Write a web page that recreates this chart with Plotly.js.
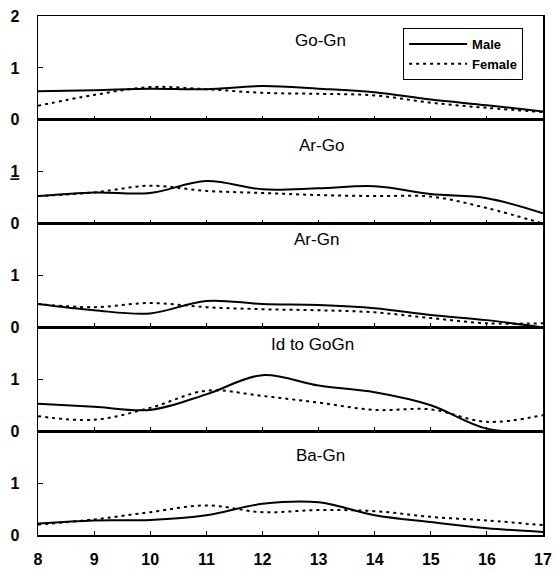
<!DOCTYPE html>
<html>
<head>
<meta charset="utf-8">
<script src="https://cdn.plot.ly/plotly-3.0.1.min.js"></script>
<style>html,body{margin:0;padding:0;background:#fff;}#chart{width:556px;height:574px;}</style>
</head>
<body>
<div id="chart"></div>
<script>
var ages = [8, 9, 10, 11, 12, 13, 14, 15, 16, 17];
var panelNames = ["Go-Gn", "Ar-Go", "Ar-Gn", "Id to GoGn", "Ba-Gn"];

var goGnMale   = [0.55, 0.57, 0.60, 0.59, 0.65, 0.60, 0.53, 0.39, 0.28, 0.16];
var goGnFemale = [0.27, 0.48, 0.63, 0.59, 0.52, 0.50, 0.47, 0.33, 0.23, 0.15];
var arGoMale   = [0.53, 0.60, 0.59, 0.82, 0.66, 0.68, 0.72, 0.57, 0.49, 0.20];
var arGoFemale = [0.53, 0.60, 0.73, 0.63, 0.59, 0.55, 0.53, 0.52, 0.30, 0.00];
var arGnMale   = [0.45, 0.33, 0.27, 0.51, 0.45, 0.43, 0.37, 0.24, 0.14, 0.00];
var arGnFemale = [0.45, 0.39, 0.47, 0.39, 0.35, 0.33, 0.29, 0.18, 0.08, 0.08];
var idMale     = [0.53, 0.47, 0.41, 0.71, 1.08, 0.88, 0.75, 0.50, 0.05, 0.00];
var idFemale   = [0.29, 0.22, 0.45, 0.78, 0.68, 0.55, 0.41, 0.42, 0.18, 0.31];
var baGnMale   = [0.22, 0.28, 0.29, 0.38, 0.60, 0.63, 0.38, 0.25, 0.13, 0.06];
var baGnFemale = [0.20, 0.30, 0.44, 0.57, 0.44, 0.48, 0.46, 0.35, 0.28, 0.19];

var maleSeries = [goGnMale, arGoMale, arGnMale, idMale, baGnMale];
var femaleSeries = [goGnFemale, arGoFemale, arGnFemale, idFemale, baGnFemale];
var titleX = [13.03, 13.05, 12.97, 12.9, 13.04];
var titleY = [1.53, 1.5, 1.7, 1.67, 1.54];

var FONT = "Liberation Sans, Arial, sans-serif";
var traces = [];
var layout = {
  width: 556, height: 574,
  margin: {l: 38, r: 13, t: 16, b: 39, pad: 0},
  paper_bgcolor: "#fff", plot_bgcolor: "#fff",
  font: {family: FONT, color: "#000"},
  showlegend: true,
  legend: {
    x: 0.723, y: 0.977, xanchor: "left", yanchor: "top",
    bordercolor: "#000", borderwidth: 1, bgcolor: "#fff",
    font: {family: FONT, size: 13, weight: "bold", color: "#000"},
    itemwidth: 58, tracegroupgap: 0
  },
  annotations: []
};

for (var k = 0; k < 5; k++) {
  var n = 5 - k;
  var xa = n === 1 ? "x" : "x" + n;
  var ya = n === 1 ? "y" : "y" + n;
  traces.push({
    x: ages, y: maleSeries[k], xaxis: xa, yaxis: ya, type: "scatter", mode: "lines",
    name: "Male", showlegend: k === 0, legendgroup: "m",
    line: {color: "#000", width: 2, shape: "spline", smoothing: 1}
  });
  traces.push({
    x: ages, y: femaleSeries[k], xaxis: xa, yaxis: ya, type: "scatter", mode: "lines",
    name: "Female", showlegend: k === 0, legendgroup: "f",
    line: {color: "#000", width: 2, dash: "3px,4px", shape: "spline", smoothing: 1}
  });
  var lo = (4 - k) * 0.2, hi = (5 - k) * 0.2;
  var xkey = n === 1 ? "xaxis" : "xaxis" + n;
  var ykey = n === 1 ? "yaxis" : "yaxis" + n;
  layout[xkey] = {
    anchor: ya, domain: [0, 1], range: [8, 17], matches: n === 1 ? undefined : "x",
    tickvals: ages, ticktext: ages.map(String), showticklabels: n === 1,
    ticks: "inside", ticklen: 4, tickwidth: 1, tickcolor: "#000",
    showline: true, linecolor: "#000", linewidth: 1.5, mirror: true,
    showgrid: false, zeroline: false, fixedrange: true,
    tickfont: {family: FONT, size: 16, weight: "bold", color: "#000"},
    ticklabelstandoff: 9
  };
  var tv = k === 0 ? [0, 1, 2] : [0, 1];
  var tt = k === 0 ? ["0", "1", "2"] : (k === 1 ? ["0", "<u>1</u>"] : ["0", "1"]);
  layout[ykey] = {
    anchor: xa, domain: [lo, hi], range: [0, 2],
    tickvals: tv, ticktext: tt,
    ticks: "inside", ticklen: 5, tickwidth: 1, tickcolor: "#000",
    showline: true, linecolor: "#000", linewidth: 1.5, mirror: true,
    showgrid: false, zeroline: false, fixedrange: true,
    tickfont: {family: FONT, size: 16, weight: "bold", color: "#000"},
    ticklabelstandoff: 14
  };
  layout.annotations.push({
    text: panelNames[k], xref: xa, yref: ya, x: titleX[k], y: titleY[k],
    showarrow: false, xanchor: "center", yanchor: "middle",
    font: {family: FONT, size: 17, color: "#000"}
  });
}

Plotly.newPlot("chart", traces, layout, {displayModeBar: false, staticPlot: true});
</script>
</body>
</html>
